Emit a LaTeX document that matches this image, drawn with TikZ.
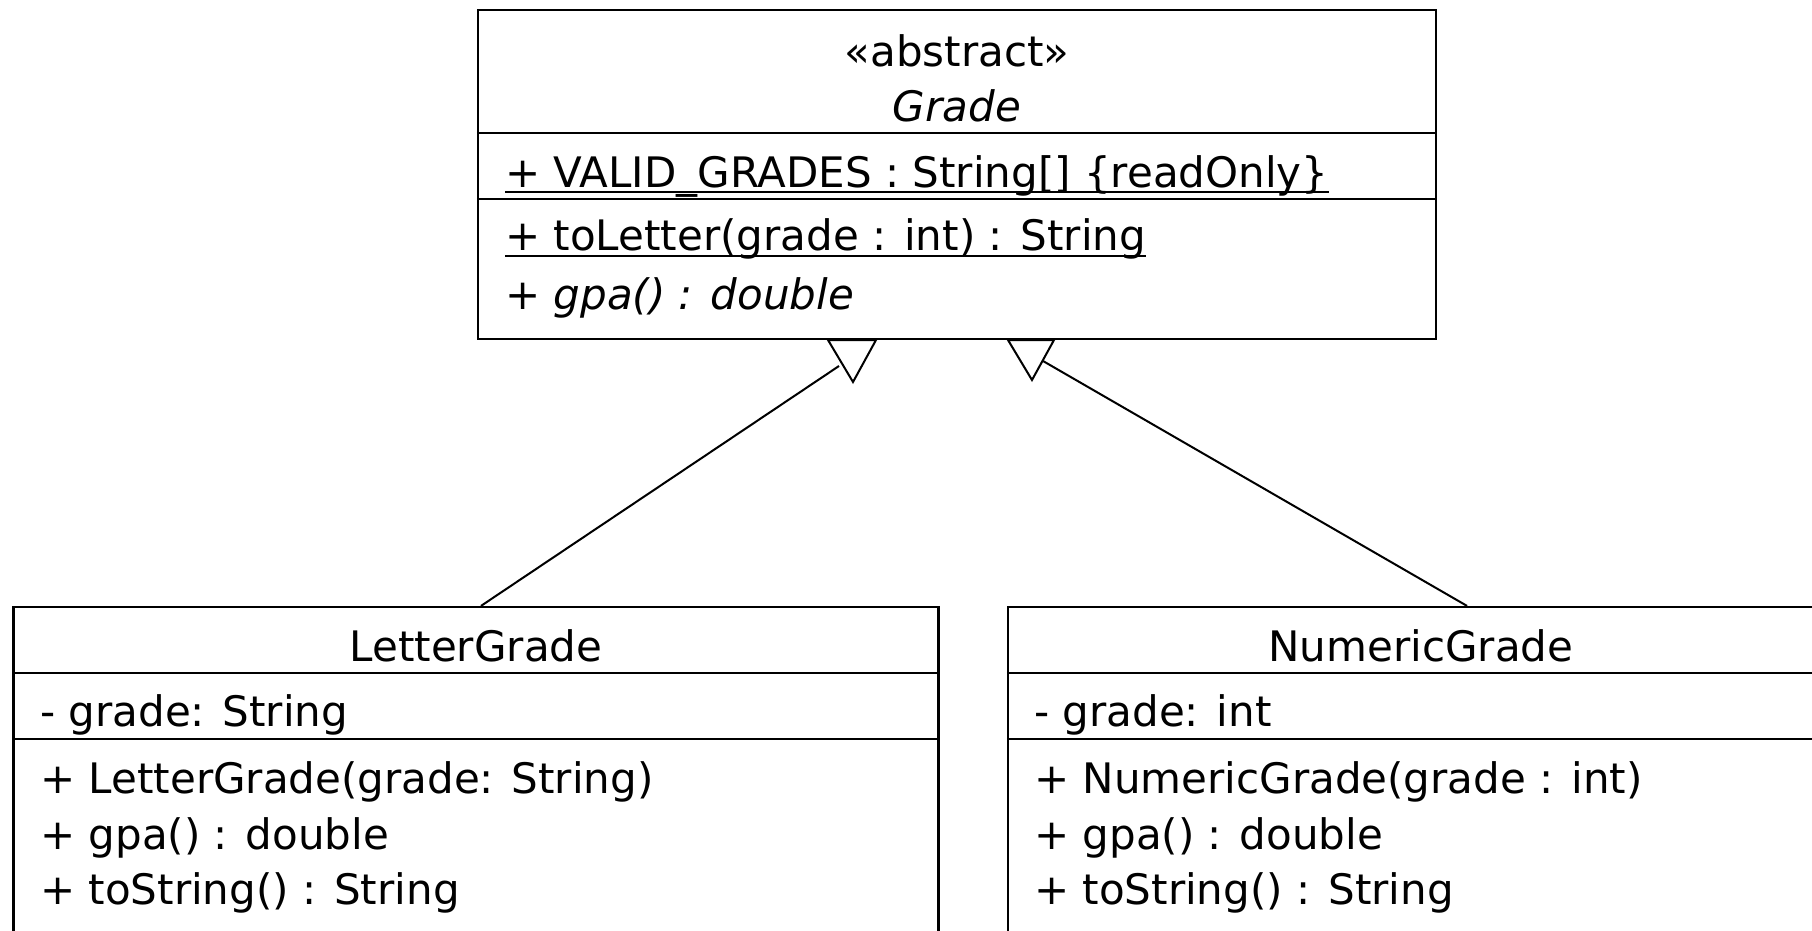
\documentclass[tikz,border=0pt]{standalone}
\usepackage{fontspec}
\setmainfont{DejaVu Sans}
\begin{document}
\begin{tikzpicture}[x=1pt,y=-1pt,
  umlbox/.style={draw, line width=2.2pt, inner sep=0pt, fill=white},
  divider/.style={line width=2.2pt},
  conn/.style={line width=2pt},
  head/.style={draw, line width=2pt, fill=white, line join=miter},
  txt/.style={anchor=base west, inner sep=0pt, font=\fontsize{42}{50}\selectfont},
  ctxt/.style={anchor=base, inner sep=0pt, font=\fontsize{42}{50}\selectfont},
  itxt/.style={font=\fontsize{42}{50}\selectfont\itshape},
  uline/.style={line width=2pt}]
\fill[white] (0,0) rectangle (1812,931);
\useasboundingbox (0,0) rectangle (1812,931);
\clip (0,0) rectangle (1812,931);

% abstract base class
\node[umlbox, minimum width=958pt, minimum height=329pt] (grade) at (957,174.5) {};
\draw[divider] (grade.west |- 0,133) -- (grade.east |- 0,133);
\draw[divider] (grade.west |- 0,199) -- (grade.east |- 0,199);
\node[ctxt] (stereo) at (957,67) {«abstract»};
\node[ctxt, itxt] (gname) at (957,122) {Grade};
\node[txt] (valid) at (505,187) {+ VALID\_GRADES : String[] \{readOnly\}};
\draw[uline] ([yshift=-5pt]valid.base west) -- ([yshift=-5pt]valid.base east);
\node[txt] (toletter) at (505,250) {+ toLetter(grade : int) : String};
\draw[uline] ([yshift=-6pt]toletter.base west) -- ([yshift=-6pt]toletter.base east);
\node[txt, itxt] (agpa) at (505,309) {+ gpa() : double};

% LetterGrade
\node[umlbox, minimum width=925pt, minimum height=353pt] (letter) at (476,783.5) {};
\draw[divider] (letter.west |- 0,673) -- (letter.east |- 0,673);
\draw[divider] (letter.west |- 0,739) -- (letter.east |- 0,739);
\node[ctxt] (lname) at (476,661) {LetterGrade};
\node[txt] (lattr) at (40,726) {- grade: String};
\node[txt] (lm1) at (40,793) {+ LetterGrade(grade: String)};
\node[txt] (lm2) at (40,849) {+ gpa() : double};
\node[txt] (lm3) at (40,904) {+ toString() : String};

% NumericGrade
\node[umlbox, minimum width=826pt, minimum height=353pt] (numeric) at (1421,783.5) {};
\draw[divider] (numeric.west |- 0,673) -- (numeric.east |- 0,673);
\draw[divider] (numeric.west |- 0,739) -- (numeric.east |- 0,739);
\node[ctxt] (nname) at (1421,661) {NumericGrade};
\node[txt] (nattr) at (1034,726) {- grade: int};
\node[txt] (nm1) at (1034,793) {+ NumericGrade(grade : int)};
\node[txt] (nm2) at (1034,849) {+ gpa() : double};
\node[txt] (nm3) at (1034,904) {+ toString() : String};

% generalization connectors with hollow triangle heads
\coordinate (tipL) at (839,366);
\coordinate (tipR) at (1043,361);
\draw[conn] ([xshift=5pt]letter.north) -- (tipL);
\draw[conn] ([xshift=46pt]numeric.north) -- (tipR);
\draw[head] (828,340) -- (876,340) -- (853,382) -- cycle;
\draw[head] (1008,340) -- (1054,340) -- (1032,380) -- cycle;
\end{tikzpicture}
\end{document}
